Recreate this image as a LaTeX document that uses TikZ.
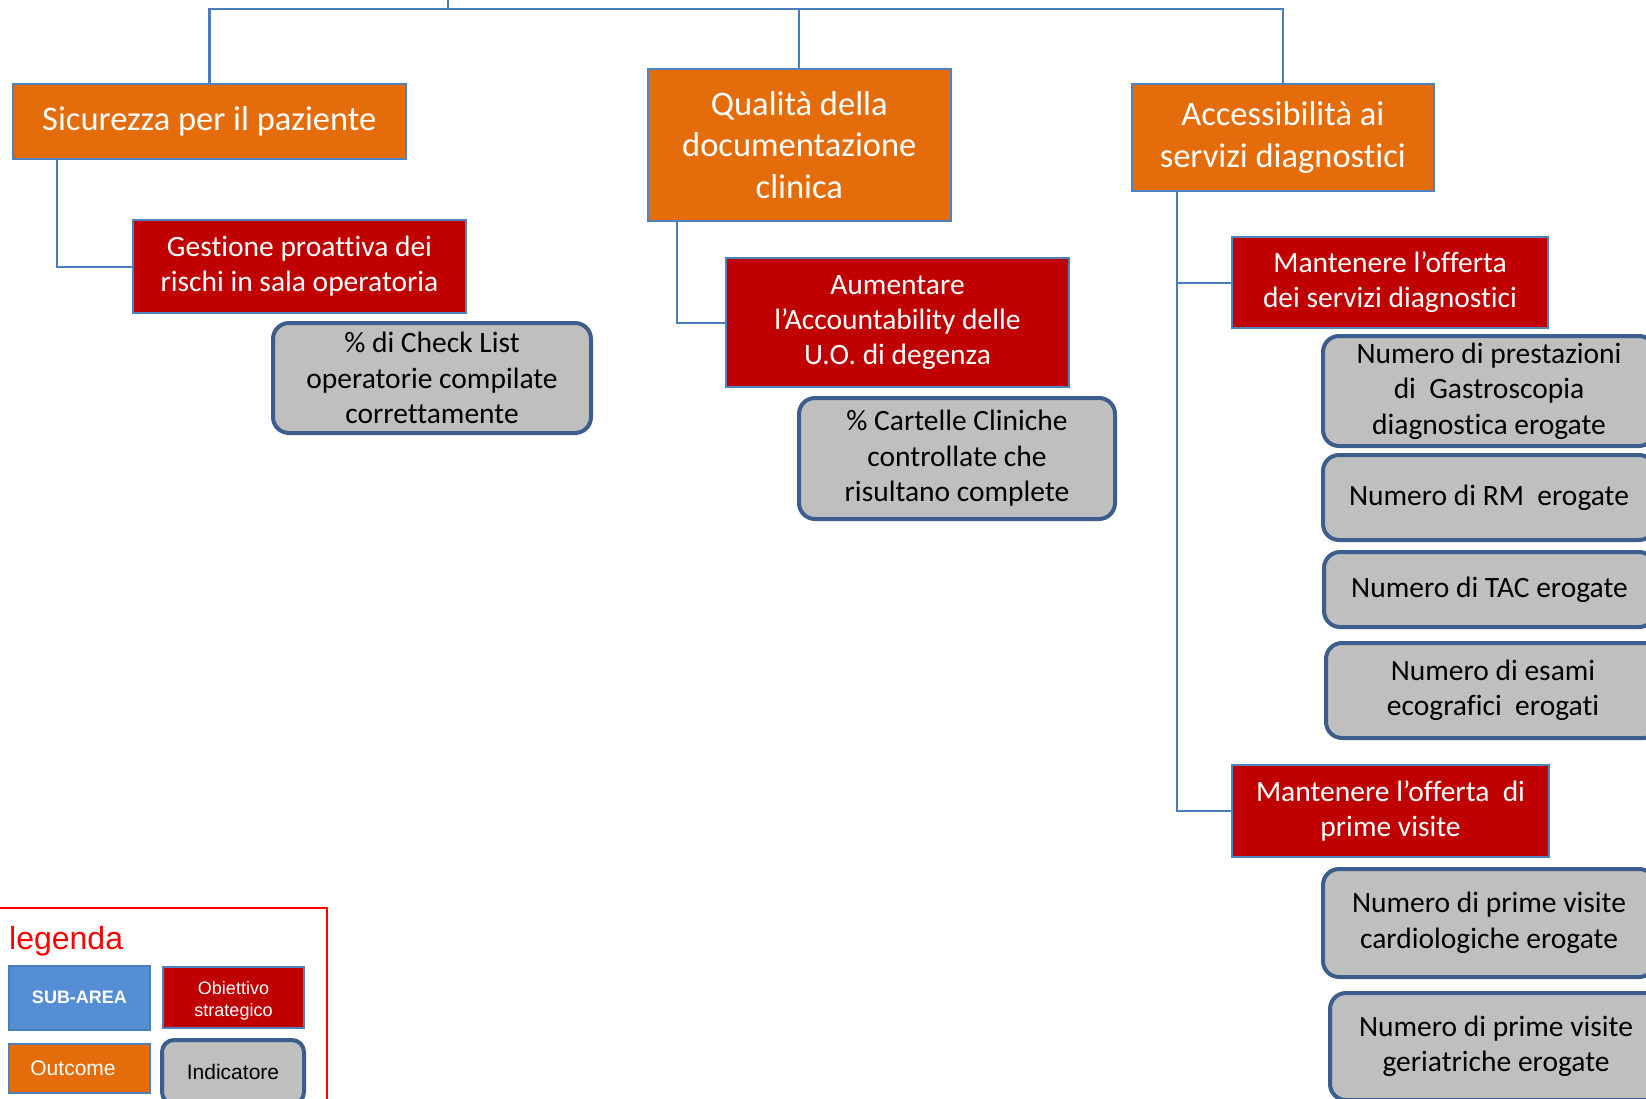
\documentclass[tikz,border=0pt]{standalone}
\usepackage{fontspec}
\setmainfont{Carlito}[Ligatures={NoCommon}]
\newfontfamily\arialf{Liberation Sans}
\definecolor{linkblue}{HTML}{4A7EBB}
\definecolor{edgeblue}{HTML}{4F81BD}
\definecolor{outorange}{HTML}{E46C0A}
\definecolor{goalred}{HTML}{C00000}
\definecolor{kpigray}{HTML}{BFBFBF}
\definecolor{kpiblue}{HTML}{3B5E8C}
\definecolor{subblue}{HTML}{558ED5}
\definecolor{legred}{HTML}{FF0000}
\begin{document}
\begin{tikzpicture}[x=1pt,y=-1pt,
  link/.style={draw=linkblue,line width=2pt},
  outcomebox/.style={draw=edgeblue,line width=2pt,fill=outorange,text=white,
    align=center,inner sep=0pt,font=\fontsize{34.5}{41.5}\selectfont},
  goalbox/.style={draw=edgeblue,line width=2pt,fill=goalred,text=white,
    align=center,inner sep=0pt,font=\fontsize{29.5}{34.8}\selectfont},
  kpibox/.style={draw=kpiblue,line width=4pt,fill=kpigray,text=black,
    rounded corners=16pt,align=center,inner sep=0pt,font=\fontsize{29.5}{35.5}\selectfont},
  legtext/.style={font=\arialf\fontsize{18}{22}\selectfont,align=center,inner sep=0pt}
]
\clip (0,0) rectangle (1646,1098);
\fill[white] (0,0) rectangle (1646,1098);

% sub-area outcomes
\node[outcomebox,minimum width=393pt,minimum height=75pt] (o1) at (209.3,121.5) {Sicurezza per il paziente};
\node[outcomebox,minimum width=303pt,minimum height=152pt] (o2) at (799.3,145) {Qualità della\\documentazione\\clinica};
\node[outcomebox,minimum width=302pt,minimum height=107pt] (o3) at (1282.8,137.5) {Accessibilità ai\\servizi diagnostici};

% strategic goals
\node[goalbox,minimum width=333pt,minimum height=93pt] (r1) at (299.5,266.5) {Gestione proattiva dei\\rischi in sala operatoria};
\node[goalbox,minimum width=343pt,minimum height=129pt] (r2) at (897.5,322.5) {Aumentare\\l’Accountability delle\\U.O. di degenza};
\node[goalbox,minimum width=316pt,minimum height=91pt] (r3) at (1390,282.5) {Mantenere l’offerta\\dei servizi diagnostici};
\node[goalbox,minimum width=317pt,minimum height=92pt] (r4) at (1390.5,811) {Mantenere l’offerta~ di\\prime visite};

% indicators
\node[kpibox,minimum width=318pt,minimum height=110pt] (g1) at (432,378) {\% di Check List\\operatorie compilate\\correttamente};
\node[kpibox,minimum width=316pt,minimum height=121pt] (g2) at (957,458.5) {\% Cartelle Cliniche\\controllate che\\risultano complete};
\node[kpibox,minimum width=332pt,minimum height=110pt] (g3) at (1489,391) {Numero di prestazioni\\di~ Gastroscopia\\diagnostica erogate};
\node[kpibox,minimum width=332pt,minimum height=85pt] (g4) at (1489,497.5) {Numero di RM~ erogate};
\node[kpibox,minimum width=331pt,minimum height=75pt] (g5) at (1489.5,589.5) {Numero di TAC erogate};
\node[kpibox,minimum width=334pt,minimum height=95pt] (g6) at (1493,690.5) {Numero di esami\\ecografici~ erogati};
\node[kpibox,minimum width=332pt,minimum height=108pt] (g7) at (1489,923) {Numero di prime visite\\cardiologiche erogate};
\node[kpibox,minimum width=332pt,minimum height=107pt] (g8) at (1496,1046.5) {Numero di prime visite\\geriatriche erogate};

% tree connectors
\coordinate (up) at (448,-5);
\coordinate (bus) at (448,9);
\draw[link] (up) -- (bus);
\draw[link,line width=2.4pt] (o1.north) -- (o1.north |- bus) -| (o3.north);
\draw[link] (o2.north) -- (o2.north |- bus);
\draw[link] ([xshift=45pt]o1.south west) |- (r1.west);
\draw[link] ([xshift=30.4pt]o2.south west) |- (r2.west);
\draw[link] ([xshift=46.4pt]o3.south west) |- (r4.west);
\draw[link] ([xshift=46.4pt]o3.south west |- r3.west) -- (r3.west);

% legend
\draw[legred,line width=2pt] (-5,908) rectangle (327,1110);
\node[anchor=base west,inner sep=0pt,text=legred,font=\arialf\fontsize{32}{38}\selectfont] (legtitle) at (9,949) {legenda};
\node[legtext,draw=linkblue,line width=2pt,fill=subblue,text=white,minimum width=141pt,minimum height=64pt,font=\arialf\bfseries\fontsize{18}{22}\selectfont] (lsub) at (79.5,997.5) {SUB-AREA};
\node[draw=edgeblue,line width=2pt,fill=goalred,minimum width=141pt,minimum height=61pt,inner sep=0pt] (lgoal) at (233.5,997.5) {};
\node[legtext,text=white] (lgoaltext) at ([yshift=-3.5pt]lgoal.center) {Obiettivo\\strategico};
\node[legtext,draw=edgeblue,line width=2pt,fill=outorange,text=white,minimum width=141pt,minimum height=49pt,font=\arialf\fontsize{21}{25}\selectfont] (lout) at (79.5,1068.5) {Outcome\hspace*{13pt}};
\node[legtext,draw=kpiblue,line width=4pt,fill=kpigray,rounded corners=12pt,minimum width=142pt,minimum height=64pt,font=\arialf\fontsize{21}{25}\selectfont] (lkpi) at (233,1072) {Indicatore};
\end{tikzpicture}
\end{document}
